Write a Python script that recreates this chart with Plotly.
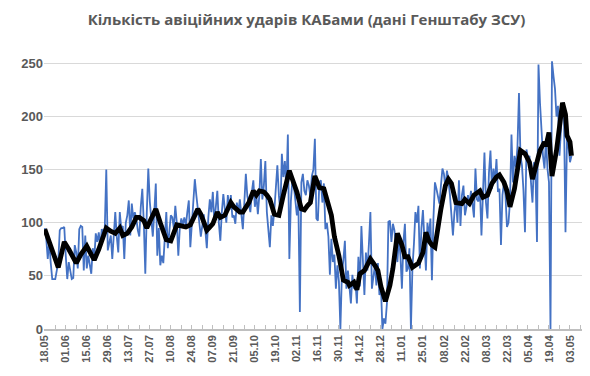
import pandas as pd
import plotly.graph_objects as go

start_date = "2024-05-18"

# daily number of guided-bomb (KAB) strikes, one value per day from 18.05.2024
counts = [
    95, 85, 66, 83, 62, 47, 47, 47, 55, 63,
    93, 95, 95, 96, 69, 47, 63, 54, 47, 48,
    79, 72, 57, 94, 97, 96, 55, 88, 57, 69,
    62, 52, 76, 66, 90, 82, 91, 77, 94, 91,
    95, 150, 74, 82, 88, 66, 91, 110, 87, 72,
    110, 94, 97, 66, 100, 107, 121, 88, 118, 104,
    110, 104, 93, 87, 115, 132, 100, 52, 110, 151,
    120, 100, 87, 110, 137, 69, 95, 60, 69, 62,
    85, 110, 76, 95, 107, 105, 95, 116, 100, 69,
    95, 104, 98, 105, 97, 110, 121, 77, 100, 116,
    141, 126, 110, 100, 87, 100, 108, 93, 76, 105,
    122, 110, 129, 100, 112, 130, 100, 83, 110, 127,
    113, 100, 126, 112, 126, 105, 107, 99, 119, 110,
    122, 105, 94, 119, 146, 125, 118, 110, 129, 140,
    115, 126, 108, 126, 160, 122, 135, 158, 110, 90,
    77, 107, 97, 112, 140, 154, 126, 110, 165, 143,
    158, 132, 183, 66, 120, 140, 135, 120, 107, 119,
    16, 138, 146, 130, 126, 140, 135, 125, 144, 150,
    179, 104, 102, 138, 140, 119, 137, 94, 100, 87,
    51, 85, 63, 70, 38, 60, 45, 0, 52, 65,
    83, 38, 55, 40, 24, 51, 38, 45, 24, 68,
    40, 97, 60, 32, 72, 55, 80, 110, 38, 50,
    60, 41, 62, 32, 41, 0, 10, 5, 24, 101,
    102, 82, 99, 93, 80, 63, 87, 69, 38, 82,
    99, 54, 57, 76, 0, 57, 80, 110, 100, 116,
    57, 95, 112, 83, 55, 100, 87, 104, 46, 104,
    138, 132, 126, 118, 135, 151, 146, 132, 149, 140,
    126, 110, 88, 110, 122, 100, 140, 97, 126, 135,
    107, 115, 126, 116, 130, 118, 105, 151, 122, 120,
    132, 88, 129, 166, 119, 104, 147, 168, 132, 151,
    138, 160, 129, 132, 79, 126, 138, 126, 96, 100,
    120, 183, 138, 163, 152, 172, 222, 163, 154, 130,
    91, 169, 160, 163, 138, 119, 157, 147, 82, 249,
    213, 180, 163, 151, 179, 151, 138, 0, 252, 238,
    226, 200, 210, 163, 194, 213, 200, 91, 179, 172,
    157, 163,
]

# moving-average line (black): day offset from 18.05.2024 and value
ma_day = [
    0, 3, 6, 9, 11, 13, 16, 19, 21, 24, 28, 31, 33, 36, 39, 41, 44, 47, 50, 52,
    55, 58, 61, 63, 66, 68, 71, 74, 77, 79, 81, 84, 86, 88, 91, 94, 97, 100, 102, 104,
    106, 108, 110, 112, 115, 117, 120, 122, 124, 126, 128, 130, 132, 134, 136, 139, 141, 143, 146, 148,
    150, 153, 156, 159, 161, 163, 165, 168, 171, 173, 175, 177, 180, 183, 186, 189, 191, 193, 196, 199,
    202, 203, 206, 208, 210, 213, 217, 220, 222, 224, 227, 230, 232, 235, 238, 240, 242, 245, 249, 252,
    254, 256, 258, 260, 262, 264, 267, 269, 271, 274, 278, 280, 283, 286, 290, 292, 295, 298, 301, 303,
    306, 308, 310, 313, 317, 320, 323, 325, 328, 330, 333, 334, 336, 338, 341, 343, 345, 347, 348, 350,
    351,
]
ma_value = [
    94, 82, 68, 58, 70, 82, 75, 66, 62, 70, 78, 70, 65, 75, 87, 95, 92, 90, 95, 88,
    90, 96, 105, 105, 102, 95, 104, 113, 100, 90, 84, 83, 90, 98, 97, 96, 98, 107, 113, 108,
    100, 93, 96, 99, 110, 105, 107, 113, 119, 115, 113, 110, 110, 115, 119, 130, 126, 130, 129, 126,
    122, 108, 107, 126, 137, 149, 141, 129, 113, 112, 116, 119, 144, 133, 132, 118, 107, 87, 69, 46,
    44, 41, 44, 37, 52, 55, 66, 60, 55, 40, 26, 41, 57, 90, 79, 68, 68, 58, 62, 72,
    91, 83, 79, 77, 97, 113, 135, 141, 137, 119, 118, 122, 118, 126, 130, 124, 126, 137, 143, 145,
    138, 130, 115, 132, 168, 165, 157, 141, 157, 168, 176, 172, 185, 144, 168, 188, 213, 202, 182, 176,
    163,
]

y_ticks = [0, 50, 100, 150, 200, 250]

start = pd.Timestamp(start_date)
dates = [start + pd.Timedelta(days=i) for i in range(len(counts))]
ma_dates = [start + pd.Timedelta(days=d) for d in ma_day]

DAY_MS = 86400000
grey_txt = "#595959"
W, H = 582, 368

fig = go.Figure()
fig.add_trace(go.Scatter(
    x=dates, y=counts, mode="lines",
    line=dict(color="#4472C4", width=1.8),
    hoverinfo="x+y", showlegend=False,
))
fig.add_trace(go.Scatter(
    x=ma_dates, y=ma_value, mode="lines",
    line=dict(color="#000000", width=4.8),
    showlegend=False,
))

fig.update_layout(
    width=W, height=H,
    margin=dict(l=36, r=8, t=49, b=47),
    paper_bgcolor="white", plot_bgcolor="white",
    title=dict(
        text="<b>Кількість авіційних ударів КАБами (дані Генштабу ЗСУ)</b>",
        x=298.5 / W, xanchor="center", y=1 - 12 / H, yanchor="middle", yref="container",
        font=dict(family="Open Sans", size=15, color=grey_txt),
    ),
)

fig.update_xaxes(
    type="date",
    range=[start - pd.Timedelta(hours=12), start + pd.Timedelta(days=358)],
    tick0=start_date, dtick=14 * DAY_MS, tickformat="%d.%m",
    tickangle=-90,
    tickfont=dict(family="Liberation Sans", size=11, color=grey_txt, weight="bold"),
    ticks="inside", ticklen=4, tickcolor="#bfbfbf", tickwidth=1,
    minor=dict(dtick=7 * DAY_MS, tick0=start_date, ticks="inside", ticklen=4,
               tickcolor="#bfbfbf", tickwidth=1, showgrid=False),
    showline=True, linecolor="#bfbfbf", linewidth=1.5,
    showgrid=False, zeroline=False, automargin=False,
)
fig.update_yaxes(
    range=[0, 256],
    tickvals=y_ticks,
    tickfont=dict(family="Liberation Sans", size=13, color=grey_txt, weight="bold"),
    showgrid=True, gridcolor="#d9d9d9", gridwidth=1,
    zeroline=False, showline=False, ticks="", automargin=False,
)

fig.write_html("out.html")
